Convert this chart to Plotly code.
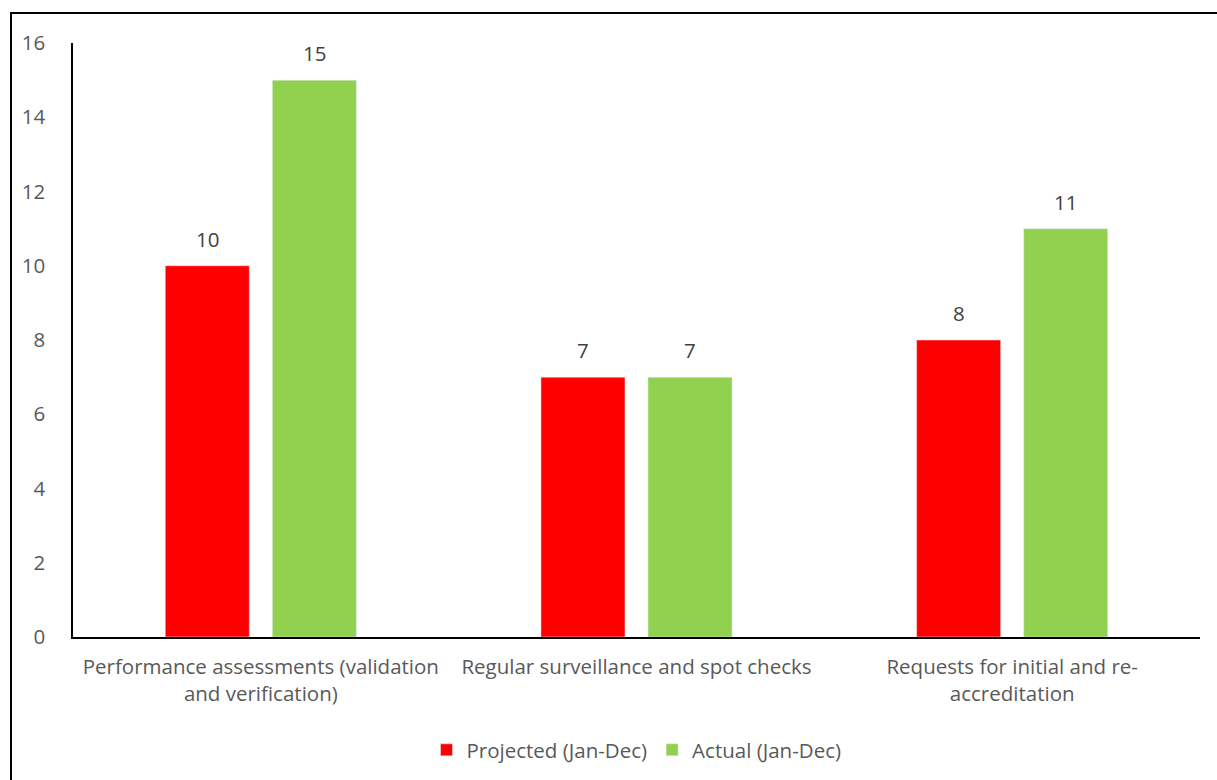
import plotly.graph_objects as go

categories = ["Performance assessments (validation<br>and verification)",
              "Regular surveillance and spot checks",
              "Requests for initial and re-<br>accreditation"]
projected = [10, 7, 8]
actual = [15, 7, 11]
series_names = ["Projected (Jan-Dec)", "Actual (Jan-Dec)"]
y_ticks = [0, 2, 4, 6, 8, 10, 12, 14, 16]

FONT = "Open Sans"
FS = 20.5
fig = go.Figure()
fig.add_trace(go.Bar(x=categories, y=projected, name=series_names[0], marker_color="#FF0000"))
fig.add_trace(go.Bar(x=categories, y=actual, name=series_names[1], marker_color="#92D050"))

W, H = 1217, 780
L, R, T, B = 73, 17, 43, 143
pw, ph = W - L - R, H - T - B

def px(x):
    return (x - L) / pw

def py(y):
    return (H - B - y) / ph

annotations = []
for vals, shift in ((projected, -53.5), (actual, 53.5)):
    for c, v in zip(categories, vals):
        annotations.append(dict(x=c, y=v, xref="x", yref="y", text=str(v), showarrow=False,
                                xshift=shift, yshift=27, yanchor="middle",
                                font=dict(family=FONT, size=FS, color="#404040")))

fig.update_layout(
    width=W, height=H,
    margin=dict(l=L, r=R, t=T, b=B, autoexpand=False),
    paper_bgcolor="white", plot_bgcolor="white",
    barmode="group", bargap=0.43, bargroupgap=0.215,
    font=dict(family=FONT, color="#595959", size=FS),
    showlegend=True,
    legend=dict(orientation="h", x=0.5, xanchor="center", y=py(750), yanchor="middle",
                font=dict(size=FS, color="#595959", family=FONT), itemwidth=30,
                tracegroupgap=0),
    xaxis=dict(showline=True, linecolor="black", linewidth=1.5, showgrid=False,
               ticks="", ticklabelstandoff=11, tickfont=dict(size=FS, color="#595959")),
    yaxis=dict(range=[0, 16], tickvals=y_ticks, showline=True, linecolor="black",
               linewidth=1.5, showgrid=False, zeroline=False, ticks="",
               ticklabelstandoff=22, tickfont=dict(size=FS, color="#595959")),
    annotations=annotations,
    shapes=[dict(type="rect", xref="paper", yref="paper",
                 x0=px(11), x1=px(1240), y0=py(820), y1=py(13),
                 line=dict(color="black", width=2), fillcolor="rgba(0,0,0,0)", layer="above")],
)

fig.write_html("out.html")
